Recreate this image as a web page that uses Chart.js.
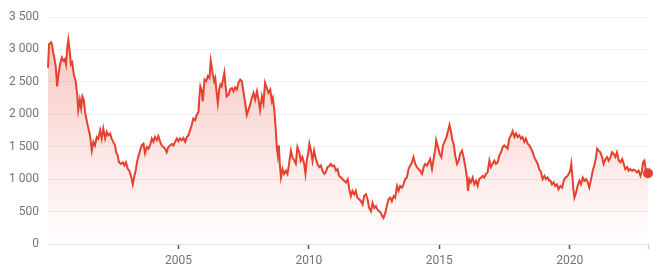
<!DOCTYPE html>
<html>
<head>
<meta charset="utf-8">
<script src="https://cdn.jsdelivr.net/npm/chart.js@4"></script>
<style>
  html, body { margin: 0; padding: 0; background: #fff; }
  #wrap { width: 661px; height: 274px; }
</style>
</head>
<body>
<div id="wrap"><canvas id="priceChart"></canvas></div>
<script>
// Dates (années décimales) et cours
var years = [
  2000.00, 2000.04, 2000.12, 2000.16, 2000.20, 2000.24, 2000.30, 2000.35, 2000.40, 2000.46,
  2000.53, 2000.59, 2000.65, 2000.69, 2000.74, 2000.78, 2000.83, 2000.88, 2000.93, 2000.99,
  2001.06, 2001.12, 2001.16, 2001.22, 2001.27, 2001.32, 2001.37, 2001.42, 2001.48, 2001.55,
  2001.61, 2001.68, 2001.74, 2001.80, 2001.87, 2001.93, 2002.00, 2002.06, 2002.12, 2002.19,
  2002.25, 2002.31, 2002.38, 2002.44, 2002.50, 2002.57, 2002.61, 2002.67, 2002.72, 2002.80,
  2002.87, 2002.93, 2002.99, 2003.06, 2003.12, 2003.18, 2003.25, 2003.31, 2003.36, 2003.41,
  2003.46, 2003.53, 2003.59, 2003.66, 2003.72, 2003.79, 2003.85, 2003.91, 2003.98, 2004.04,
  2004.10, 2004.17, 2004.23, 2004.30, 2004.36, 2004.42, 2004.49, 2004.55, 2004.61, 2004.68,
  2004.75, 2004.81, 2004.87, 2004.94, 2005.00, 2005.06, 2005.13, 2005.19, 2005.26, 2005.32,
  2005.38, 2005.45, 2005.51, 2005.57, 2005.64, 2005.70, 2005.77, 2005.80, 2005.84, 2005.90,
  2005.93, 2006.00, 2006.06, 2006.13, 2006.19, 2006.24, 2006.28, 2006.32, 2006.37, 2006.41,
  2006.46, 2006.51, 2006.56, 2006.61, 2006.66, 2006.71, 2006.76, 2006.80, 2006.85, 2006.92,
  2006.98, 2007.05, 2007.11, 2007.17, 2007.24, 2007.30, 2007.37, 2007.43, 2007.49, 2007.56,
  2007.62, 2007.68, 2007.75, 2007.81, 2007.88, 2007.94, 2008.01, 2008.07, 2008.13, 2008.20,
  2008.26, 2008.32, 2008.39, 2008.45, 2008.52, 2008.58, 2008.62, 2008.68, 2008.73, 2008.77,
  2008.81, 2008.85, 2008.89, 2008.93, 2008.99, 2009.05, 2009.12, 2009.18, 2009.24, 2009.31,
  2009.37, 2009.44, 2009.50, 2009.56, 2009.63, 2009.69, 2009.75, 2009.82, 2009.87, 2009.92,
  2009.98, 2010.02, 2010.08, 2010.14, 2010.20, 2010.27, 2010.33, 2010.40, 2010.46, 2010.52,
  2010.59, 2010.65, 2010.71, 2010.78, 2010.84, 2010.91, 2010.97, 2011.04, 2011.10, 2011.16,
  2011.23, 2011.29, 2011.35, 2011.42, 2011.49, 2011.55, 2011.61, 2011.67, 2011.74, 2011.80,
  2011.86, 2011.93, 2012.00, 2012.06, 2012.12, 2012.19, 2012.25, 2012.31, 2012.38, 2012.44,
  2012.51, 2012.57, 2012.63, 2012.70, 2012.76, 2012.82, 2012.86, 2012.93, 2012.99, 2013.05,
  2013.12, 2013.18, 2013.25, 2013.31, 2013.38, 2013.44, 2013.50, 2013.57, 2013.63, 2013.69,
  2013.76, 2013.82, 2013.89, 2013.95, 2014.01, 2014.08, 2014.14, 2014.20, 2014.27, 2014.34,
  2014.40, 2014.46, 2014.53, 2014.59, 2014.65, 2014.72, 2014.78, 2014.85, 2014.88, 2014.95,
  2015.01, 2015.08, 2015.14, 2015.20, 2015.27, 2015.34, 2015.39, 2015.45, 2015.50, 2015.55,
  2015.61, 2015.68, 2015.74, 2015.80, 2015.87, 2015.93, 2016.00, 2016.06, 2016.10, 2016.15,
  2016.21, 2016.28, 2016.34, 2016.41, 2016.47, 2016.53, 2016.60, 2016.66, 2016.72, 2016.79,
  2016.85, 2016.92, 2016.98, 2017.04, 2017.11, 2017.17, 2017.24, 2017.30, 2017.37, 2017.43,
  2017.49, 2017.56, 2017.62, 2017.68, 2017.75, 2017.81, 2017.88, 2017.94, 2018.00, 2018.07,
  2018.13, 2018.19, 2018.26, 2018.32, 2018.39, 2018.45, 2018.52, 2018.58, 2018.64, 2018.71,
  2018.77, 2018.83, 2018.90, 2018.96, 2019.03, 2019.09, 2019.15, 2019.22, 2019.26, 2019.32,
  2019.38, 2019.45, 2019.51, 2019.57, 2019.64, 2019.71, 2019.77, 2019.83, 2019.90, 2019.96,
  2020.02, 2020.06, 2020.10, 2020.14, 2020.18, 2020.24, 2020.30, 2020.37, 2020.43, 2020.50,
  2020.56, 2020.63, 2020.69, 2020.75, 2020.82, 2020.88, 2020.94, 2021.01, 2021.05, 2021.11,
  2021.17, 2021.24, 2021.30, 2021.37, 2021.43, 2021.49, 2021.56, 2021.62, 2021.68, 2021.75,
  2021.81, 2021.88, 2021.94, 2022.01, 2022.07, 2022.13, 2022.20, 2022.26, 2022.32, 2022.39,
  2022.45, 2022.52, 2022.58, 2022.64, 2022.71, 2022.77, 2022.81, 2022.86, 2022.90, 2022.94,
  2023.00
];
var prices = [
  2720, 3080, 3110, 3060, 2950, 2875, 2720, 2430, 2615, 2770,
  2875, 2825, 2850, 2770, 3030, 3150, 2980, 2770, 2800, 2615,
  2510, 2300, 2065, 2225, 2095, 2275, 2225, 2040, 1910, 1780,
  1675, 1440, 1575, 1520, 1650, 1625, 1755, 1625, 1780, 1625,
  1730, 1675, 1705, 1625, 1575, 1520, 1415, 1365, 1260, 1235,
  1260, 1210, 1260, 1155, 1130, 1050, 920, 1050, 1130, 1260,
  1340, 1440, 1520, 1545, 1400, 1495, 1470, 1520, 1625, 1575,
  1650, 1600, 1665, 1575, 1520, 1495, 1470, 1415, 1495, 1520,
  1545, 1520, 1575, 1625, 1585, 1625, 1600, 1635, 1575, 1650,
  1675, 1755, 1835, 1935, 1910, 1990, 2040, 2250, 2430, 2355,
  2200, 2535, 2510, 2590, 2560, 2825, 2720, 2615, 2510, 2560,
  2355, 2170, 2380, 2460, 2430, 2535, 2640, 2460, 2275, 2300,
  2380, 2405, 2355, 2415, 2380, 2485, 2535, 2510, 2355, 2170,
  1990, 2065, 2145, 2250, 2330, 2225, 2355, 2225, 2065, 2275,
  2170, 2485, 2405, 2330, 2380, 2200, 2250, 2040, 1780, 1495,
  1365, 1520, 1210, 1025, 1155, 1080, 1130, 1080, 1235, 1440,
  1340, 1285, 1235, 1495, 1415, 1285, 1340, 1235, 1080, 1285,
  1415, 1545, 1440, 1285, 1440, 1310, 1235, 1185, 1210, 1130,
  1080, 1105, 1185, 1200, 1235, 1200, 1210, 1130, 1155, 1050,
  1025, 1000, 975, 950, 1000, 845, 740, 820, 765, 820,
  715, 690, 660, 610, 740, 765, 690, 555, 505, 635,
  555, 585, 530, 505, 480, 425, 400, 480, 585, 690,
  715, 660, 740, 715, 895, 820, 895, 870, 920, 1000,
  1025, 1155, 1210, 1260, 1340, 1235, 1185, 1155, 1130, 1080,
  1185, 1235, 1210, 1260, 1310, 1155, 1310, 1470, 1600, 1495,
  1390, 1340, 1520, 1575, 1640, 1750, 1835, 1730, 1600, 1545,
  1365, 1235, 1285, 1390, 1440, 1340, 1185, 1025, 820, 1000,
  950, 1025, 920, 975, 895, 1000, 1025, 1050, 1025, 1080,
  1105, 1285, 1185, 1235, 1285, 1235, 1260, 1365, 1415, 1495,
  1520, 1495, 1470, 1625, 1675, 1740, 1650, 1705, 1650, 1675,
  1625, 1650, 1575, 1625, 1545, 1520, 1470, 1415, 1340, 1285,
  1235, 1155, 1105, 1000, 1050, 1000, 1025, 975, 975, 920,
  950, 895, 920, 845, 895, 870, 975, 1025, 1040, 1080,
  1130, 1235, 1050, 845, 715, 790, 895, 975, 920, 1025,
  975, 1000, 950, 870, 1000, 1130, 1210, 1340, 1470, 1440,
  1415, 1340, 1235, 1310, 1340, 1285, 1340, 1415, 1390, 1340,
  1415, 1285, 1260, 1310, 1235, 1155, 1185, 1130, 1155, 1130,
  1145, 1130, 1105, 1130, 1050, 1130, 1260, 1285, 1185, 1080,
  1090
];
var xTickYears = [2005, 2010, 2015, 2020, 2023];
var yTickValues = [0, 500, 1000, 1500, 2000, 2500, 3000, 3500];

var points = years.map(function (y, i) { return { x: y, y: prices[i] }; });

// espace comme séparateur de milliers
function formatNombre(v) {
    return String(v).replace(/\B(?=(\d{3})+(?!\d))/g, ' ');
}

var ctx = document.getElementById('priceChart').getContext('2d');
var priceChart = new Chart(ctx, {
    type: 'line',
    data: {
        datasets: [{
            data: points,
            borderColor: '#e5412f',
            borderWidth: 2,
            tension: 0,
            clip: false,
            pointRadius: function (c) { return c.dataIndex === points.length - 1 ? 5 : 0; },
            pointBackgroundColor: '#e5412f',
            pointBorderWidth: 0,
            fill: 'origin',
            backgroundColor: function (c) {
                var area = c.chart.chartArea;
                if (!area) return 'rgba(229,65,47,0.15)';
                var g = c.chart.ctx.createLinearGradient(0, area.top, 0, area.bottom);
                g.addColorStop(0, 'rgba(229,65,47,0.32)');
                g.addColorStop(1, 'rgba(229,65,47,0.0)');
                return g;
            }
        }]
    },
    options: {
        responsive: true,
        maintainAspectRatio: false,
        animation: false,
        layout: { padding: { top: 17, right: 13, bottom: 0, left: 0 } },
        plugins: { legend: { display: false }, tooltip: { enabled: false } },
        scales: {
            x: {
                type: 'linear',
                min: 2000,
                max: 2023,
                afterBuildTicks: function (scale) {
                    scale.ticks = xTickYears.map(function (v) { return { value: v }; });
                },
                afterFit: function (scale) { scale.height = 30; },
                border: { display: true, color: '#e2e2e2', width: 1 },
                grid: {
                    display: true,
                    drawOnChartArea: false,
                    drawTicks: true,
                    tickLength: 5,
                    tickWidth: 1.5,
                    tickColor: function (c) { return c.tick && c.tick.value === 2023 ? '#cfcfcf' : '#555555'; }
                },
                ticks: {
                    color: '#70757a',
                    font: { family: 'Roboto', size: 12 },
                    padding: 5,
                    maxRotation: 0,
                    autoSkip: false,
                    callback: function (v) { return v === 2023 ? '' : String(v); }
                }
            },
            y: {
                min: 0,
                max: 3500,
                afterBuildTicks: function (scale) {
                    scale.ticks = yTickValues.map(function (v) { return { value: v }; });
                },
                afterFit: function (scale) { scale.width = 48; },
                border: { display: false },
                grid: { color: '#f0f0f0', drawTicks: false, lineWidth: 1 },
                ticks: {
                    color: '#70757a',
                    font: { family: 'Roboto', size: 12 },
                    padding: 9,
                    callback: function (v) { return formatNombre(v); }
                }
            }
        }
    }
});
</script>
</body>
</html>
